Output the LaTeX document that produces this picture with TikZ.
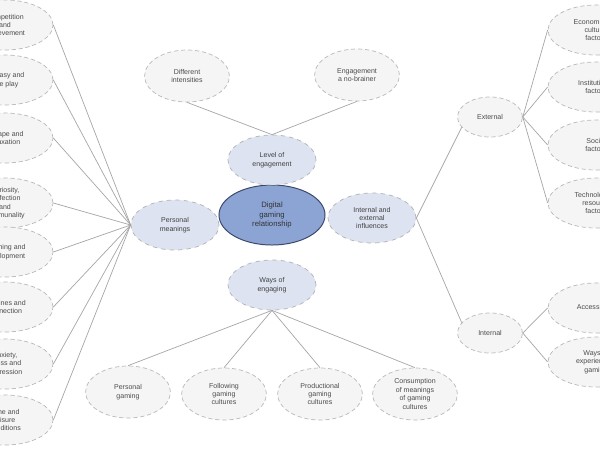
\documentclass[tikz,border=0pt]{standalone}
\usepackage{fontspec}
\setmainfont{Liberation Sans}
\usepackage{tikz}
\usetikzlibrary{shapes,positioning}
\definecolor{hubblue}{RGB}{140,164,212}
\definecolor{hubedge}{RGB}{60,72,105}
\definecolor{themeblue}{RGB}{221,227,240}

\begin{document}
\begin{tikzpicture}[x=0.025cm, y=-0.025cm,
    hub/.style={ellipse, draw=hubedge, fill=hubblue, line width=0.7pt,
        minimum width=2.65cm, minimum height=1.5cm, inner sep=0pt, align=center,
        font=\fontsize{5.5}{6.5}\selectfont, text=black!80},
    theme/.style={ellipse, draw=gray!60, dashed, fill=themeblue, line width=0.5pt,
        minimum width=2.2cm, minimum height=1.25cm, inner sep=0pt, align=center,
        font=\fontsize{5}{6}\selectfont, text=black!75},
    leaf/.style={ellipse, draw=gray!55, densely dashed, fill=gray!8, line width=0.5pt,
        minimum width=2.12cm, minimum height=1.3cm, inner sep=0pt, align=center,
        font=\fontsize{5}{6}\selectfont, text=black!70},
    wideleaf/.style={leaf, minimum width=2.4cm, minimum height=1.25cm},
    sideleaf/.style={leaf, minimum width=1.62cm, minimum height=1.0cm},
    line/.style={draw, gray!70, line width=0.5pt}]

    \clip (0,0) rectangle (600,450);
    \fill[white] (0,0) rectangle (600,450);

    % ====== Core ======
    \node [hub] (dgr) at (272,215) {Digital\\gaming\\relationship};

    % ====== Themes ======
    \node [theme] (loe) at (272,160) {Level of\\engagement};
    \node [theme] (pm)  at (175,225) {Personal\\meanings};
    \node [theme] (iei) at (372,218) {Internal and\\external\\influences};
    \node [theme] (woe) at (272,285) {Ways of\\engaging};

    % ====== Level of engagement ======
    \node [leaf] (di) at (187,76) {Different\\intensities};
    \node [leaf] (en) at (357,75) {Engagement\\a no-brainer};

    % ====== Personal meanings ======
    \node [wideleaf] (p1) at (5,25)  {Competition\\and\\achievement};
    \node [wideleaf] (p2) at (5,80)  {Fantasy and\\role play};
    \node [wideleaf] (p3) at (5,138) {Escape and\\relaxation};
    \node [wideleaf] (p4) at (5,203) {Curiosity,\\perfection\\and\\communality};
    \node [wideleaf] (p5) at (5,252) {Learning and\\development};
    \node [wideleaf] (p6) at (5,307) {Routines and\\connection};
    \node [wideleaf] (p7) at (5,364) {Anxiety,\\stress and\\depression};
    \node [wideleaf] (p8) at (5,420) {Time and\\leisure\\conditions};

    % ====== Ways of engaging ======
    \node [leaf] (w1) at (128,392) {Personal\\gaming};
    \node [leaf] (w2) at (224,394) {Following\\gaming\\cultures};
    \node [leaf] (w3) at (320,394) {Productional\\gaming\\cultures};
    \node [leaf] (w4) at (415,394) {Consumption\\of meanings\\of gaming\\cultures};

    % ====== Influences ======
    \node [sideleaf] (ext) at (490,117) {External};
    \node [sideleaf] (int) at (490,333) {Internal};
    \node [wideleaf] (e1) at (596,30)  {Economic and\\cultural\\factors};
    \node [wideleaf] (e2) at (596,87)  {Institutional\\factors};
    \node [wideleaf] (e3) at (596,145) {Social\\factors};
    \node [wideleaf] (e4) at (596,203) {Technological\\resource\\factors};
    \node [wideleaf] (i1) at (596,308) {Accessibility};
    \node [wideleaf] (i2) at (596,362) {Ways of\\experiencing\\gaming};

    % ====== Lines ======
    \path [line] (loe.north) -- (di.south);
    \path [line] (loe.north) -- (en.south);
    \foreach \n in {p1,p2,p3,p4,p5,p6,p7,p8}
        \path [line] (\n.east) -- (pm.west);
    \foreach \n in {w1,w2,w3,w4}
        \path [line] (woe.south) -- (\n.north);
    \path [line] (iei.east) -- (ext.200);
    \path [line] (iei.east) -- (int.160);
    \foreach \n in {e1,e2,e3,e4}
        \path [line] (ext.east) -- (\n.west);
    \foreach \n in {i1,i2}
        \path [line] (int.east) -- (\n.west);
\end{tikzpicture}
\end{document}
